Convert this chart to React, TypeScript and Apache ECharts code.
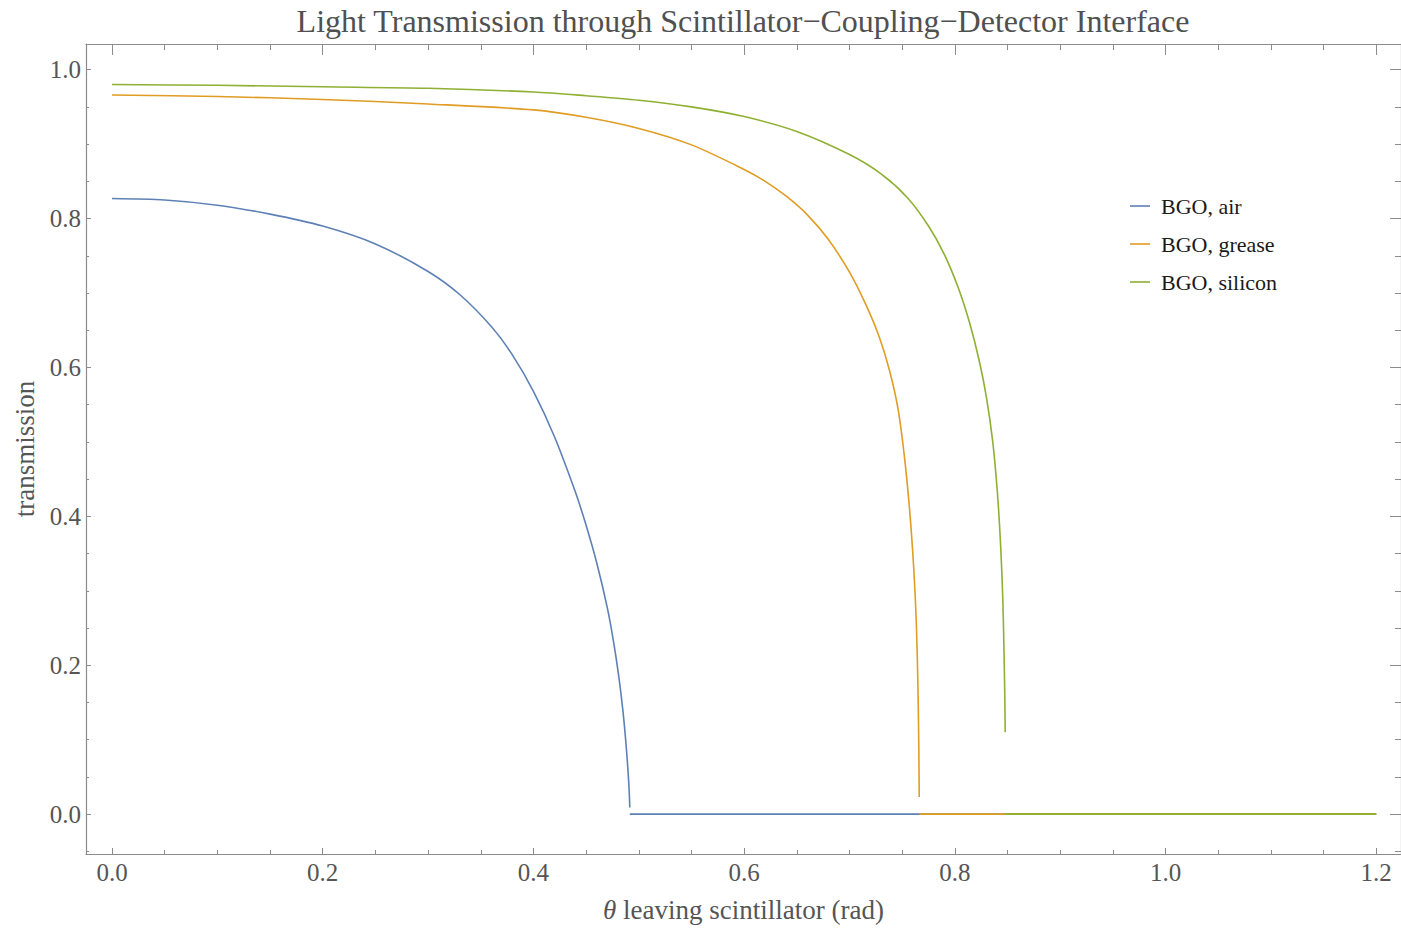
import React, { useEffect, useRef } from "react";
import * as echarts from "echarts";

// ---- data ----
const airX = [0, 0.05, 0.1, 0.15, 0.2, 0.25, 0.3, 0.33, 0.36, 0.38, 0.4, 0.42, 0.44, 0.45, 0.46, 0.47, 0.476, 0.481, 0.485, 0.488, 0.4905, 0.4915];
const airY = [0.827, 0.825, 0.818, 0.806, 0.790, 0.766, 0.729, 0.698, 0.655, 0.617, 0.568, 0.507, 0.432, 0.388, 0.338, 0.278, 0.232, 0.185, 0.138, 0.092, 0.042, 0.009];

const greaseX = [0, 0.1, 0.2, 0.3, 0.4, 0.45, 0.5, 0.55, 0.6, 0.62, 0.64, 0.66, 0.68, 0.7, 0.715, 0.728, 0.738, 0.746, 0.752, 0.757, 0.761, 0.7635, 0.765, 0.7658, 0.7662];
const greaseY = [0.966, 0.964, 0.960, 0.954, 0.946, 0.936, 0.921, 0.899, 0.866, 0.850, 0.830, 0.805, 0.772, 0.728, 0.686, 0.642, 0.596, 0.545, 0.482, 0.410, 0.330, 0.255, 0.170, 0.090, 0.023];

const siliconX = [0, 0.1, 0.2, 0.3, 0.4, 0.45, 0.5, 0.55, 0.6, 0.65, 0.7, 0.73, 0.755, 0.775, 0.79, 0.803, 0.814, 0.823, 0.83, 0.836, 0.8405, 0.8435, 0.8455, 0.8468, 0.8475, 0.8478];
const siliconY = [0.980, 0.979, 0.977, 0.975, 0.970, 0.965, 0.959, 0.950, 0.937, 0.917, 0.886, 0.860, 0.828, 0.790, 0.752, 0.708, 0.660, 0.610, 0.560, 0.500, 0.430, 0.360, 0.290, 0.210, 0.150, 0.110];

// zero plateau after total internal reflection: [start, end]
const airZero = [0.4915, 1.2];
const greaseZero = [0.7662, 1.2];
const siliconZero = [0.8478, 1.2];

const seriesNames = ["BGO, air", "BGO, grease", "BGO, silicon"];
const seriesColors = ["#5E81B5", "#E19C24", "#8FB032"];

const xMajor = [0, 0.2, 0.4, 0.6, 0.8, 1.0, 1.2];
const xMinor = [0.05, 0.1, 0.15, 0.25, 0.3, 0.35, 0.45, 0.5, 0.55, 0.65, 0.7, 0.75, 0.85, 0.9, 0.95, 1.05, 1.1, 1.15];
const yMajor = [0, 0.2, 0.4, 0.6, 0.8, 1.0];
const yMinor = [-0.05, 0.05, 0.1, 0.15, 0.25, 0.3, 0.35, 0.45, 0.5, 0.55, 0.65, 0.7, 0.75, 0.85, 0.9, 0.95];

const title = "Light Transmission through Scintillator\u2212Coupling\u2212Detector Interface";
const xName = "{i|\u03b8} leaving scintillator (rad)";
const yName = "transmission";

const X_MIN = -0.0247;
const X_MAX = 1.2235;
const Y_MIN = -0.0535;
const Y_MAX = 1.0345;

const FONT = "'Liberation Serif', 'Times New Roman', serif";
const FRAME = "#8c8c8c";
const LABEL = "#555555";

function build(xs: number[], ys: number[], zero: number[]) {
  const d: any[] = xs.map((x, i) => [x, ys[i]]);
  d.push([zero[0], null]);
  d.push([zero[0], 0]);
  d.push([zero[1], 0]);
  return d;
}

export default function App() {
  const ref = useRef<HTMLDivElement>(null);
  useEffect(() => {
    if (!ref.current) return;
    const chart = echarts.init(ref.current, null, { renderer: "svg" });
    const tickStyle = { color: FRAME, width: 1 };
    const fmt = (v: number) => v.toFixed(1);
    const xAxisBase = { type: "value", min: X_MIN, max: X_MAX, splitLine: { show: false } };
    const yAxisBase = { type: "value", min: Y_MIN, max: Y_MAX, splitLine: { show: false } };
    const frameLine = { show: true, onZero: false, lineStyle: { color: FRAME, width: 1.2 } };
    const noLine = { show: false, onZero: false };
    const datasets = [
      build(airX, airY, airZero),
      build(greaseX, greaseY, greaseZero),
      build(siliconX, siliconY, siliconZero),
    ];
    chart.setOption({
      animation: false,
      backgroundColor: "#ffffff",
      textStyle: { fontFamily: FONT },
      graphic: [
        {
          type: "text",
          x: 743,
          y: 21,
          style: { text: title, align: "center", verticalAlign: "middle", fontSize: 32, fill: "#505050", fontFamily: FONT },
        },
      ],
      grid: { left: 86, top: 44, width: 1316, height: 813, containLabel: false },
      legend: {
        orient: "vertical",
        left: 1125,
        top: 190,
        icon: "rect",
        itemWidth: 20,
        itemHeight: 1.6,
        itemGap: 16,
        data: seriesNames,
        textStyle: { fontSize: 22, color: "#1a1a1a", fontFamily: FONT, lineHeight: 22, padding: [0, 0, 0, 6] },
      },
      xAxis: [
        {
          ...xAxisBase,
          position: "bottom",
          axisLine: frameLine,
          axisTick: { show: true, inside: true, length: 6, customValues: xMajor, lineStyle: tickStyle },
          axisLabel: { show: true, customValues: xMajor, formatter: fmt, margin: 6, fontSize: 25, color: LABEL, fontFamily: FONT },
          name: xName,
          nameLocation: "middle",
          nameGap: 42,
          nameTextStyle: { fontSize: 27, color: LABEL, fontFamily: FONT, rich: { i: { fontStyle: "italic", fontSize: 27, color: LABEL, fontFamily: FONT } } },
        },
        {
          ...xAxisBase,
          position: "bottom",
          axisLine: noLine,
          axisTick: { show: true, inside: true, length: 4, customValues: xMinor, lineStyle: tickStyle },
          axisLabel: { show: false },
        },
        {
          ...xAxisBase,
          position: "top",
          axisLine: frameLine,
          axisTick: { show: true, inside: true, length: 11, customValues: xMajor, lineStyle: tickStyle },
          axisLabel: { show: false },
        },
        {
          ...xAxisBase,
          position: "top",
          axisLine: noLine,
          axisTick: { show: true, inside: true, length: 6, customValues: xMinor, lineStyle: tickStyle },
          axisLabel: { show: false },
        },
      ],
      yAxis: [
        {
          ...yAxisBase,
          position: "left",
          axisLine: frameLine,
          axisTick: { show: true, inside: true, length: 5, customValues: yMajor, lineStyle: tickStyle },
          axisLabel: { show: true, customValues: yMajor, formatter: fmt, margin: 5, fontSize: 25, color: LABEL, fontFamily: FONT },
          name: yName,
          nameLocation: "middle",
          nameRotate: 90,
          nameGap: 45,
          nameTextStyle: { fontSize: 27, color: LABEL, fontFamily: FONT },
        },
        {
          ...yAxisBase,
          position: "left",
          axisLine: noLine,
          axisTick: { show: true, inside: true, length: 3, customValues: yMinor, lineStyle: tickStyle },
          axisLabel: { show: false },
        },
        {
          ...yAxisBase,
          position: "right",
          axisLine: frameLine,
          axisTick: { show: true, inside: true, length: 11, customValues: yMajor, lineStyle: tickStyle },
          axisLabel: { show: false },
        },
        {
          ...yAxisBase,
          position: "right",
          axisLine: noLine,
          axisTick: { show: true, inside: true, length: 6, customValues: yMinor, lineStyle: tickStyle },
          axisLabel: { show: false },
        },
      ],
      series: seriesNames.map((name, i) => ({
        name,
        type: "line",
        xAxisIndex: 0,
        yAxisIndex: 0,
        data: datasets[i],
        showSymbol: false,
        symbol: "none",
        smooth: 0.3,
        connectNulls: false,
        color: seriesColors[i],
        lineStyle: { color: seriesColors[i], width: 1.6 },
        emphasis: { disabled: true },
      })),
    });
    return () => chart.dispose();
  }, []);
  return <div ref={ref} style={{ position: "absolute", left: 0, top: 0, width: 1401, height: 928 }} />;
}
